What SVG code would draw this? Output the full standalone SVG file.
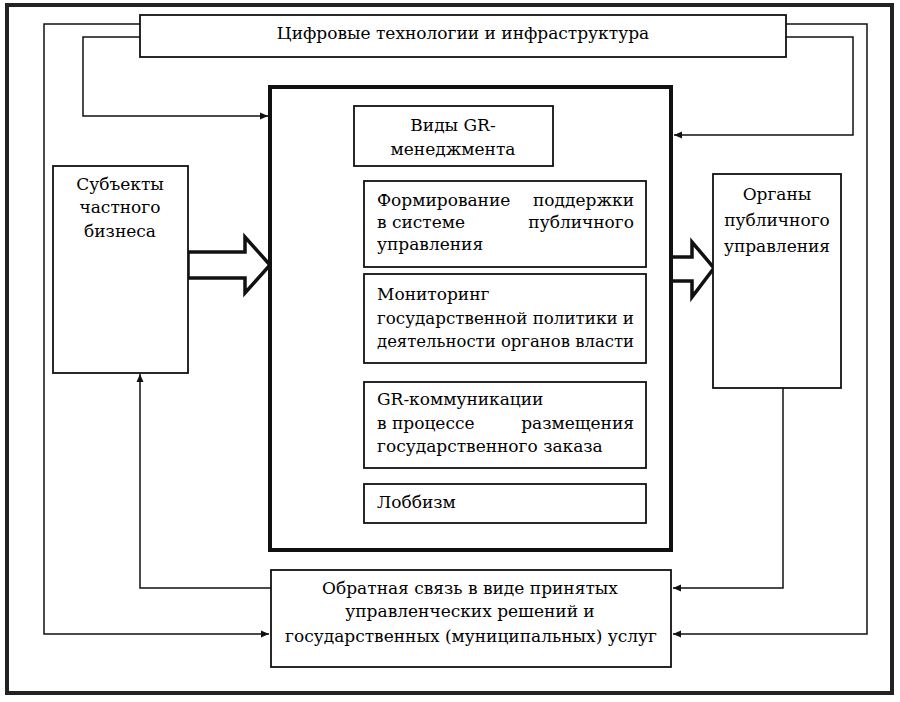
<svg xmlns="http://www.w3.org/2000/svg" width="900" height="702" viewBox="0 0 900 702">
<style>
.box{fill:#fff;stroke:#111;stroke-width:1.8}
.thick{fill:#fff;stroke:#111;stroke-width:4}
.con{fill:none;stroke:#111;stroke-width:1.5}
.blk{fill:#fff;stroke:#111;stroke-width:3.5;stroke-linejoin:miter}
text{font-family:"DejaVu Serif","Liberation Serif",serif;font-size:17px;fill:#000}
.c{text-anchor:middle}
.e{text-anchor:end}
</style>
<defs>
<marker id="ah" markerUnits="userSpaceOnUse" markerWidth="9" markerHeight="8" refX="8" refY="4" orient="auto">
<path d="M0,0.5 L8,4 L0,7.5 z" fill="#111"/>
</marker>
</defs>
<rect x="0" y="0" width="900" height="702" fill="#fff"/>
<rect id="frame" x="7" y="5" width="885" height="688" fill="none" stroke="#222" stroke-width="4"/>

<g id="connectors">
<polyline class="con" points="140,24 44,24 44,634 269,634" marker-end="url(#ah)"/>
<polyline class="con" points="786,24 867,24 867,634 673,634" marker-end="url(#ah)"/>
<polyline class="con" points="140,37 83,37 83,116 268,116" marker-end="url(#ah)"/>
<polyline class="con" points="786,37 853,37 853,135 674,135" marker-end="url(#ah)"/>
<polyline class="con" points="271,588 140,588 140,374" marker-end="url(#ah)"/>
<polyline class="con" points="783,388 783,588 673,588" marker-end="url(#ah)"/>
<polyline class="con" points="354,142 302,142 302,498 363,498" marker-end="url(#ah)"/>
<line class="con" x1="302" y1="218" x2="363" y2="218" marker-end="url(#ah)"/>
<line class="con" x1="302" y1="305" x2="363" y2="305" marker-end="url(#ah)"/>
<line class="con" x1="302" y1="420" x2="363" y2="420" marker-end="url(#ah)"/>
<polygon class="blk" points="188,252 245,252 245,237 270,265 245,293 245,278 188,278"/>
<polygon class="blk" points="671,257 692,257 692,242 714,268 692,297 692,281 671,281"/>
</g>

<g id="digital">
<rect class="box" x="140" y="15" width="646" height="42"/>
<text class="c" x="463" y="39">Цифровые технологии и инфраструктура</text>
</g>

<g id="center">
<rect class="thick" x="270" y="87" width="401" height="463"/>
</g>

<g id="gr-types">
<rect class="box" x="354" y="106" width="199" height="60"/>
<text class="c" x="453" y="131">Виды GR-</text>
<text class="c" x="453" y="155">менеджмента</text>
</g>

<g id="support">
<rect class="box" x="364" y="181" width="282" height="86"/>
<text x="377" y="206">Формирование</text>
<text class="e" x="634" y="206">поддержки</text>
<text x="377" y="228">в системе</text>
<text class="e" x="634" y="228">публичного</text>
<text x="377" y="250">управления</text>
</g>

<g id="monitoring">
<rect class="box" x="364" y="274" width="282" height="89"/>
<text x="377" y="300">Мониторинг</text>
<text x="377" y="324" textLength="257" lengthAdjust="spacingAndGlyphs">государственной политики и</text>
<text x="377" y="347" textLength="257" lengthAdjust="spacingAndGlyphs">деятельности органов власти</text>
</g>

<g id="gr-comm">
<rect class="box" x="364" y="382" width="282" height="86"/>
<text x="377" y="405">GR-коммуникации</text>
<text x="377" y="429">в процессе</text>
<text class="e" x="634" y="429">размещения</text>
<text x="377" y="452">государственного заказа</text>
</g>

<g id="lobby">
<rect class="box" x="364" y="484" width="282" height="39"/>
<text x="377" y="508">Лоббизм</text>
</g>

<g id="business">
<rect class="box" x="53" y="166" width="135" height="207"/>
<text class="c" x="120" y="190">Субъекты</text>
<text class="c" x="120" y="213">частного</text>
<text class="c" x="120" y="237">бизнеса</text>
</g>

<g id="authorities">
<rect class="box" x="713" y="174" width="128" height="214"/>
<text class="c" x="777" y="200">Органы</text>
<text class="c" x="777" y="226">публичного</text>
<text class="c" x="777" y="252">управления</text>
</g>

<g id="feedback">
<rect class="box" x="271" y="570" width="400" height="97"/>
<text class="c" x="470" y="594">Обратная связь в виде принятых</text>
<text class="c" x="470" y="617">управленческих решений и</text>
<text class="c" x="471" y="642">государственных (муниципальных) услуг</text>
</g>
</svg>
